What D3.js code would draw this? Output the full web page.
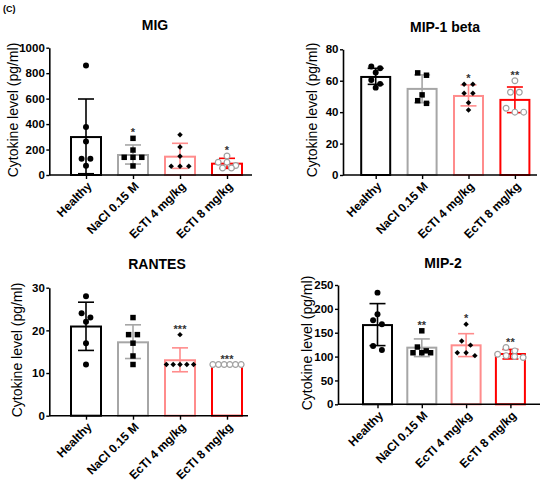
<!DOCTYPE html>
<html><head><meta charset="utf-8">
<script src="https://cdn.jsdelivr.net/npm/d3@7"></script>
<style>
html,body{margin:0;padding:0;background:#fff;}
svg{display:block;font-family:"Liberation Sans",Arial,sans-serif;}
</style></head>
<body><svg id="c" width="550" height="484"></svg>
<script>
// ---------- DATA ----------
const categories = ["Healthy", "NaCl 0.15 M", "EcTI 4 mg/kg", "EcTI 8 mg/kg"];
const panelTitles = ["MIG", "MIP-1 beta", "RANTES", "MIP-2"];
const yLabel = "Cytokine level (pg/ml)";

const migMean = [298, 157, 144, 89];
const migHi = [597, 236, 249, 131];
const migLo = [10, 86, 52, 52];
const migPoints = [[861, 377, 264, 128, 128, 73], [288, 196, 139, 139, 139, 71], [317, 220, 147, 68, 68, 68], [150, 100, 100, 75, 55, 55]];
const migSig = ["", "*", "", "*"];
const migTicks = [0, 200, 400, 600, 800, 1000];

const mip1Mean = [62.4, 54.8, 50.3, 47.8];
const mip1Hi = [67.9, 63.7, 57.3, 56];
const mip1Lo = [57.7, 46, 44, 39.7];
const mip1Points = [[69, 68, 65.2, 60.5, 58, 55.6], [65, 63.5, 51, 47.3, 45.6], [57.7, 57.7, 52, 52, 46, 41.4], [60, 52.7, 52.7, 42.5, 40, 40]];
const mip1Sig = ["", "", "*", "**"];
const mip1Ticks = [0, 20, 40, 60, 80];

const rantesMean = [20.9, 17.2, 13, 12];
const rantesHi = [26.6, 21.3, 15.9, 12];
const rantesLo = [15.3, 13.4, 10.3, 12];
const rantesPoints = [[28, 24, 23, 22, 17, 12], [23, 19, 19, 17, 14, 12], [19, 12, 12, 12, 12, 12], [12, 12, 12, 12, 12, 12]];
const rantesSig = ["", "", "***", "***"];
const rantesTicks = [0, 10, 20, 30];

const mip2Mean = [166, 118.7, 123.6, 105.4];
const mip2Hi = [211, 137, 148, 115];
const mip2Lo = [123, 100, 100, 95];
const mip2Points = [[234, 188.5, 176, 167.6, 122, 114], [154, 120, 112, 108, 108, 108], [167.6, 132.7, 124, 108, 108, 102], [119, 112, 105, 102, 100, 98]];
const mip2Sig = ["", "**", "*", "**"];
const mip2Ticks = [0, 50, 100, 150, 200, 250];

// ---------- STYLE / LAYOUT ----------
const barColors = ["#000000", "#a6a6a6", "#ff8c8c", "#ff0000"];
const symbolTypes = [d3.symbolCircle, d3.symbolSquare, d3.symbolSquare, d3.symbolCircle];
const symbolSizes = [28, 30, 15, 26];
const symbolRot = [0, 0, 45, 0];
const FONT = "'Liberation Sans', Arial, sans-serif";

const panels = [
  {title: panelTitles[0], mean: migMean, hi: migHi, lo: migLo, pts: migPoints, sig: migSig, ticks: migTicks,
   left: 49.3, right: 252, top: 47.7, bottom: 175, first: 86, step: 47, barW: 30, titleX: 155, titleY: 29.5, labX: 13, labY: 110},
  {title: panelTitles[1], mean: mip1Mean, hi: mip1Hi, lo: mip1Lo, pts: mip1Points, sig: mip1Sig, ticks: mip1Ticks,
   left: 343, right: 537, top: 49.3, bottom: 175, first: 375.7, step: 46.4, barW: 29, titleX: 445, titleY: 32, labX: 312, labY: 110},
  {title: panelTitles[2], mean: rantesMean, hi: rantesHi, lo: rantesLo, pts: rantesPoints, sig: rantesSig, ticks: rantesTicks,
   left: 49.3, right: 248, top: 287.7, bottom: 415.7, first: 86, step: 47, barW: 30, titleX: 157, titleY: 269, labX: 17, labY: 350},
  {title: panelTitles[3], mean: mip2Mean, hi: mip2Hi, lo: mip2Lo, pts: mip2Points, sig: mip2Sig, ticks: mip2Ticks,
   left: 338, right: 540, top: 285, bottom: 404.3, first: 377.5, step: 44.3, barW: 29, titleX: 443, titleY: 268, labX: 307, labY: 343}
];

const svg = d3.select("#c");

svg.append("text").attr("x", 3).attr("y", 12).attr("font-size", 9).attr("font-weight", "bold")
  .attr("font-family", FONT).text("(C)");

panels.forEach(p => {
  const g = svg.append("g");
  const x = d3.scalePoint().domain(categories).range([p.first, p.first + p.step * (categories.length - 1)]);
  const y = d3.scaleLinear().domain([0, p.ticks[p.ticks.length - 1]]).range([p.bottom, p.top]);

  // title
  g.append("text").attr("x", p.titleX).attr("y", p.titleY).attr("text-anchor", "middle")
    .attr("font-size", 14).attr("font-weight", "bold").attr("font-family", FONT).text(p.title);
  // y label
  g.append("text").attr("transform", `translate(${p.labX},${p.labY}) rotate(-90)`)
    .attr("text-anchor", "middle").attr("dy", "0.35em")
    .attr("font-size", 14).attr("font-family", FONT).text(yLabel);

  // bars
  categories.forEach((c, i) => {
    const cx = x(c);
    g.append("rect").attr("x", cx - p.barW / 2).attr("y", y(p.mean[i]))
      .attr("width", p.barW).attr("height", y(0) - y(p.mean[i]))
      .attr("fill", "#fff").attr("stroke", barColors[i]).attr("stroke-width", 2);
  });

  // error bars
  categories.forEach((c, i) => {
    const cx = x(c), col = barColors[i];
    if (p.hi[i] !== p.lo[i]) {
      g.append("line").attr("x1", cx).attr("x2", cx).attr("y1", y(p.lo[i])).attr("y2", y(p.hi[i]))
        .attr("stroke", col).attr("stroke-width", 1.6);
      [p.lo[i], p.hi[i]].forEach(v => {
        g.append("line").attr("x1", cx - 8).attr("x2", cx + 8).attr("y1", y(v)).attr("y2", y(v))
          .attr("stroke", col).attr("stroke-width", 1.6);
      });
    }
  });

  // points (rows of near-equal values spread horizontally)
  categories.forEach((c, i) => {
    const cx = x(c);
    const vals = p.pts[i].slice().sort((a, b) => b - a);
    const rows = [];
    vals.forEach(v => {
      const last = rows[rows.length - 1];
      if (last && Math.abs(y(last[0]) - y(v)) < 5) last.push(v); else rows.push([v]);
    });
    rows.forEach(r => {
      const n = r.length;
      const sp = Math.min(8.8, 34 / n);
      r.forEach((v, k) => {
        const px = cx + (k - (n - 1) / 2) * sp;
        const open = i === 3;
        const sym = d3.symbol().type(symbolTypes[i]).size(symbolSizes[i]);
        g.append("path").attr("d", sym()).attr("transform", `translate(${px},${y(v)}) rotate(${symbolRot[i]})`)
          .attr("fill", open ? "#fff" : "#000")
          .attr("stroke", open ? "#a0a0a0" : "none").attr("stroke-width", 1.2);
      });
    });
    if (p.sig[i]) {
      const top = Math.min(y(d3.max(p.pts[i])), y(p.hi[i]));
      g.append("text").attr("x", cx).attr("y", top - 8 + 6).attr("text-anchor", "middle")
        .attr("font-size", 11).attr("font-weight", "bold").attr("fill", "#333")
        .attr("font-family", FONT).text(p.sig[i]);
    }
  });

  // y axis
  const ya = g.append("g").attr("transform", `translate(${p.left},0)`)
    .call(d3.axisLeft(y).tickValues(p.ticks).tickFormat(d3.format("d")).tickSize(3).tickPadding(1.5).tickSizeOuter(0));
  ya.select(".domain").attr("stroke-width", 1.6);
  ya.selectAll(".tick line").attr("stroke-width", 1.4);
  ya.selectAll(".tick text").attr("font-size", 11.5).attr("font-weight", "bold").attr("font-family", FONT);

  // x axis
  g.append("line").attr("x1", p.left).attr("x2", p.right).attr("y1", p.bottom).attr("y2", p.bottom)
    .attr("stroke", "#000").attr("stroke-width", 1.6);
  const xa = g.append("g").attr("transform", `translate(0,${p.bottom})`)
    .call(d3.axisBottom(x).tickSize(4).tickSizeOuter(0).tickPadding(0));
  xa.select(".domain").remove();
  xa.selectAll(".tick line").attr("stroke-width", 1.4);
  xa.selectAll(".tick text").attr("font-size", 12).attr("font-weight", "bold").attr("font-family", FONT)
    .attr("text-anchor", "end").attr("dy", 0).attr("y", 0)
    .attr("transform", "translate(6,12) rotate(-45)");
});
</script></body></html>
